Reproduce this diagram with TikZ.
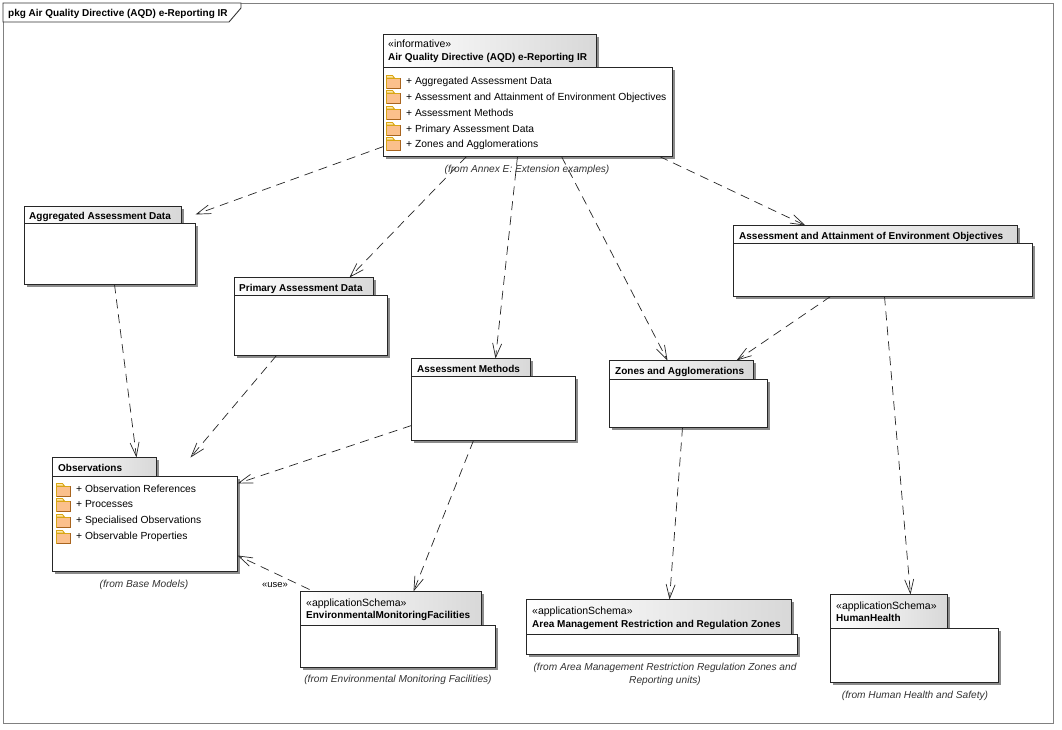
\documentclass[tikz,border=0pt]{standalone}
\usepackage{fontspec}
\setmainfont{Liberation Sans}
\usetikzlibrary{arrows.meta,shadows}
\definecolor{framegray}{HTML}{808080}
\definecolor{shadowgray}{HTML}{8C8C8C}
\definecolor{tabend}{HTML}{D8D8D8}
\definecolor{folderfill}{HTML}{FBC08C}
\definecolor{folderedge}{HTML}{D9A514}
\definecolor{folderdark}{HTML}{A8641E}
\definecolor{foldertab}{HTML}{FFE9A8}
\definecolor{notegray}{HTML}{333333}
\tikzset{
  x=1pt,y=-1pt,
  pkgbody/.style={draw=black!85,fill=white,line width=.9pt,inner sep=0pt,outer sep=0pt,anchor=north west,xshift=-.5pt,yshift=.5pt,
    drop shadow={shadow xshift=2.5pt,shadow yshift=-2.5pt,fill=shadowgray,opacity=1}},
  pkgtab/.style={draw=black!85,left color=white,right color=tabend,line width=.9pt,inner sep=0pt,outer sep=0pt,anchor=north west,xshift=-.5pt,yshift=.5pt,
    drop shadow={shadow xshift=2.5pt,shadow yshift=-2.5pt,fill=shadowgray,opacity=1}},
  title/.style={font=\fontsize{10}{12}\selectfont\bfseries,anchor=base west,inner sep=0pt},
  stereo/.style={font=\fontsize{10.5}{12}\selectfont,anchor=base west,inner sep=0pt},
  item/.style={font=\fontsize{10.3}{12}\selectfont,anchor=base west,inner sep=0pt},
  note/.style={font=\fontsize{10.15}{12}\selectfont\itshape,text=notegray,anchor=base,inner sep=0pt},
  dep/.style={draw=black!85,line width=.7pt,dash pattern=on 9pt off 6pt,
    -{Straight Barb[length=14pt,width=9pt,line width=.7pt]}},
  folder/.pic={
    \path[draw=folderedge,fill=foldertab,line width=.8pt] (0,3) -- (0,0.5) -- (6,0.5) -- (8,3) -- cycle;
    \path[draw=folderedge,fill=folderfill,line width=.9pt] (0,3) rectangle (14,13);
    \draw[folderdark,line width=.9pt] (0,13) -- (14,13) -- (14,3);
  },
}
\begin{document}
\begin{tikzpicture}
  \useasboundingbox (0,0) rectangle (1062,730);
  \fill[white] (0,0) rectangle (1062,730);

  % Diagram frame and its name tag
  \coordinate (fa) at (3,3);
  \coordinate (fb) at (1053,723);
  \draw[framegray,line width=.9pt] (fa) rectangle (fb);
  \draw[black!80,fill=white,line width=.9pt] (3,3) -- (241,3) -- (241,8) -- (229,22) -- (3,22) -- cycle;
  \node[title] (frametitle) at (8,17) {pkg Air Quality Directive (AQD) e-Reporting IR};

  % Packages: tab first, body over it
  \node[pkgtab,minimum width=213pt,minimum height=33pt] (toptab) at (384,35) {};
  \node[pkgbody,minimum width=289pt,minimum height=89pt] (top) at (384,68) {};
  \node[pkgtab,minimum width=157pt,minimum height=17pt] (aggtab) at (25,207) {};
  \node[pkgbody,minimum width=171pt,minimum height=61pt] (agg) at (25,224) {};
  \node[pkgtab,minimum width=139pt,minimum height=18pt] (primtab) at (235,278) {};
  \node[pkgbody,minimum width=153pt,minimum height=60pt] (prim) at (235,296) {};
  \node[pkgtab,minimum width=119pt,minimum height=18pt] (methtab) at (412,359) {};
  \node[pkgbody,minimum width=164pt,minimum height=64pt] (meth) at (412,377) {};
  \node[pkgtab,minimum width=144pt,minimum height=19pt] (zonetab) at (610,361) {};
  \node[pkgbody,minimum width=158pt,minimum height=48pt] (zone) at (610,380) {};
  \node[pkgtab,minimum width=284pt,minimum height=18pt] (objtab) at (734,226) {};
  \node[pkgbody,minimum width=299pt,minimum height=53pt] (obj) at (734,244) {};
  \node[pkgtab,minimum width=104pt,minimum height=19pt] (obstab) at (53,458) {};
  \node[pkgbody,minimum width=185pt,minimum height=95pt] (obs) at (53,477) {};
  \node[pkgtab,minimum width=181pt,minimum height=34pt] (emftab) at (301,592) {};
  \node[pkgbody,minimum width=195pt,minimum height=42pt] (emf) at (301,626) {};
  \node[pkgtab,minimum width=265pt,minimum height=35pt] (areatab) at (527,600) {};
  \node[pkgbody,minimum width=271pt,minimum height=20pt] (area) at (527,635) {};
  \node[pkgtab,minimum width=117pt,minimum height=34pt] (hhtab) at (831,595) {};
  \node[pkgbody,minimum width=168pt,minimum height=54pt] (hh) at (831,629) {};

  % Package names
  \node[stereo] (topst) at (388,48) {«informative»};
  \node[title] (topname) at (388,61) {Air Quality Directive (AQD) e-Reporting IR};
  \node[title] (aggname) at (29,219) {Aggregated Assessment Data};
  \node[title] (primname) at (239,291) {Primary Assessment Data};
  \node[title] (methname) at (417,372) {Assessment Methods};
  \node[title] (zonename) at (615,374) {Zones and Agglomerations};
  \node[title] (objname) at (739,239) {Assessment and Attainment of Environment Objectives};
  \node[title] (obsname) at (58,471) {Observations};
  \node[stereo] (emfst) at (306,606) {«applicationSchema»};
  \node[title] (emfname) at (306,618) {EnvironmentalMonitoringFacilities};
  \node[stereo] (areast) at (532,614) {«applicationSchema»};
  \node[title] (areaname) at (532,627) {Area Management Restriction and Regulation Zones};
  \node[stereo] (hhst) at (836,609) {«applicationSchema»};
  \node[title] (hhname) at (836,621) {HumanHealth};

  % Contents of the top package
  \pic at (386.5,75) {folder};
  \pic at (386.5,90) {folder};
  \pic at (386.5,106) {folder};
  \pic at (386.5,122) {folder};
  \pic at (386.5,137) {folder};
  \node[item] (t1) at (406,85) {+ Aggregated Assessment Data};
  \node[item] (t2) at (406,100.5) {+ Assessment and Attainment of Environment Objectives};
  \node[item] (t3) at (406,116.5) {+ Assessment Methods};
  \node[item] (t4) at (406,132.5) {+ Primary Assessment Data};
  \node[item] (t5) at (406,147.5) {+ Zones and Agglomerations};

  % Contents of Observations
  \pic at (56.5,483) {folder};
  \pic at (56.5,498) {folder};
  \pic at (56.5,514) {folder};
  \pic at (56.5,530) {folder};
  \node[item] (o1) at (76,492.5) {+ Observation References};
  \node[item] (o2) at (76,507.5) {+ Processes};
  \node[item] (o3) at (76,523.5) {+ Specialised Observations};
  \node[item] (o4) at (76,539.5) {+ Observable Properties};

  % Owning-package notes
  \node[note] (topnote) at (527,173) {(from Annex E: Extension examples)};
  \node[note] (obsnote) at (144,587) {(from Base Models)};
  \node[note] (emfnote) at (398,682.5) {(from Environmental Monitoring Facilities)};
  \node[note] (areanote1) at (665,670) {(from Area Management Restriction Regulation Zones and};
  \node[note] (areanote2) at (665,683) {Reporting units)};
  \node[note] (hhnote) at (915,698) {(from Human Health and Safety)};

  % Dependencies
  \draw[dep] ([yshift=10pt]top.south west) -- ([yshift=9pt]agg.north east);
  \draw[dep] ([xshift=83pt]top.south west) -- ([xshift=115pt]primtab.north west);
  \draw[dep] ([xshift=134pt]top.south west) -- ([xshift=84pt]methtab.north west);
  \draw[dep] ([xshift=178pt]top.south west) -- ([xshift=58pt]zonetab.north west);
  \draw[dep] ([xshift=276pt]top.south west) -- ([xshift=72pt]objtab.north west);
  \draw[dep] ([xshift=90pt]agg.south west) -- ([xshift=84pt]obstab.north west);
  \draw[dep] ([xshift=42pt]prim.south west) -- ([xshift=138pt]obstab.north west);
  \draw[dep] ([yshift=15pt]meth.south west) -- ([yshift=-7pt]obs.north east);
  \draw[dep] ([xshift=97pt]obj.south west) -- ([xshift=127pt]zonetab.north west);
  \draw[dep] ([xshift=151pt]obj.south west) -- ([xshift=80pt]hhtab.north west);
  \draw[dep] ([xshift=62pt]meth.south west) -- ([xshift=113pt]emftab.north west);
  \draw[dep] ([xshift=73pt]zone.south west) -- ([xshift=143pt]areatab.north west);
  \draw[dep] ([xshift=9pt,yshift=2pt]emftab.north west) -- ([yshift=16pt]obs.south east);
  \node[font=\fontsize{9.4}{11}\selectfont,anchor=base west,inner sep=0pt] (uselabel) at (262,587) {«use»};
\end{tikzpicture}
\end{document}
